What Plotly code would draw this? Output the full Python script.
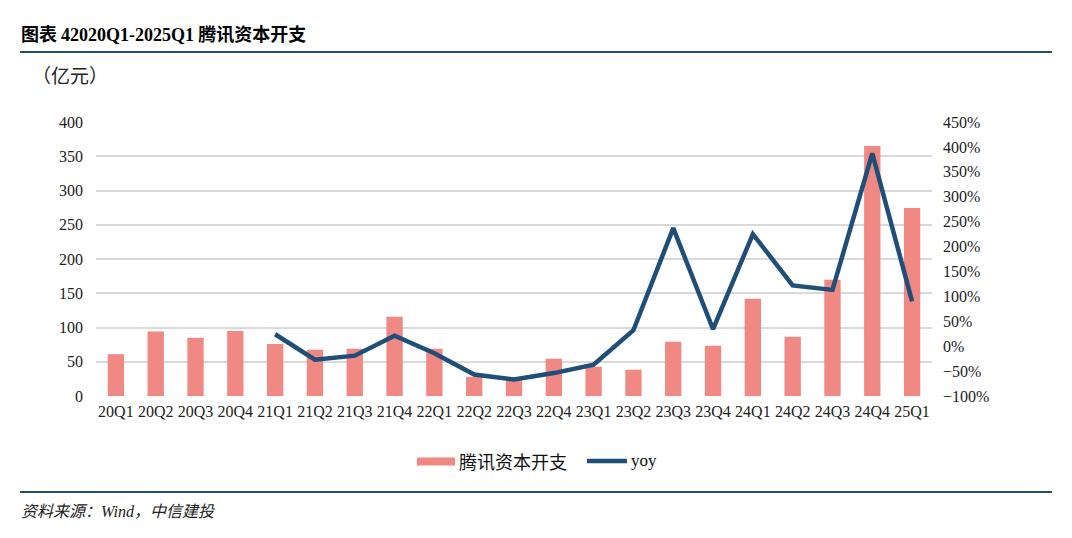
import plotly.graph_objects as go

quarters = ["20Q1", "20Q2", "20Q3", "20Q4", "21Q1", "21Q2", "21Q3", "21Q4",
            "22Q1", "22Q2", "22Q3", "22Q4", "23Q1", "23Q2", "23Q3", "23Q4",
            "24Q1", "24Q2", "24Q3", "24Q4", "25Q1"]
capex = [61, 94, 85, 95, 76, 67.5, 69, 115.6,
         69, 28, 24, 54.4, 42.7, 38.4, 79.2, 73.4,
         141.9, 86.5, 169.6, 365, 274.6]
yoy_q = quarters[4:]
yoy = [24, -27, -19, 21, -14, -57, -67, -54, -37, 32, 237, 34,
       225, 122, 113, 387, 90]

BAR = "#F08884"
LINE = "#1F4E79"
SERIF = "Liberation Serif, Times New Roman, serif"
CJK = "Noto Sans CJK SC"

# page offset from body margin (8px); plot area in page px: x 96..932, y 122..396
OX, OY = 8, 8
PX0, PX1, PY0, PY1 = 96, 932, 122, 396
PW, PH = PX1 - PX0, PY1 - PY0


def px(x):
    return (x - PX0) / PW


def py(y):
    return (PY1 - y) / PH


fig = go.Figure()
fig.add_trace(go.Bar(x=quarters, y=capex, name="腾讯资本开支",
                     marker=dict(color=BAR, line=dict(width=0)), yaxis="y"))
fig.add_trace(go.Scatter(x=yoy_q, y=yoy, name="yoy", mode="lines",
                         line=dict(color=LINE, width=4.5), yaxis="y2"))

fig.update_layout(
    width=1072 - OX, height=538 - OY,
    margin=dict(l=PX0 - OX, r=1072 - PX1, t=PY0 - OY, b=538 - PY1),
    paper_bgcolor="white", plot_bgcolor="white",
    bargap=0.59,
    showlegend=False,
    xaxis=dict(type="category", categoryorder="array", categoryarray=quarters,
               showgrid=False, showline=False, ticks="", ticklabelstandoff=4,
               tickfont=dict(family=SERIF, size=16, color="#222")),
    yaxis=dict(range=[0, 400], dtick=50, showgrid=True, gridcolor="#D9D9D9", gridwidth=1.5,
               zeroline=False, showline=False, ticks="", ticklabelstandoff=12,
               tickfont=dict(family=SERIF, size=16, color="#222")),
    yaxis2=dict(overlaying="y", side="right", range=[-100, 450], dtick=50,
                ticksuffix="%", showgrid=False, zeroline=False, showline=False,
                ticks="", ticklabelstandoff=10,
                tickfont=dict(family=SERIF, size=16, color="#222")),
    shapes=[
        dict(type="line", xref="paper", yref="paper", x0=px(20), x1=px(1052),
             y0=py(52), y1=py(52), line=dict(color=LINE, width=2)),
        dict(type="line", xref="paper", yref="paper", x0=px(20), x1=px(1052),
             y0=py(492), y1=py(492), line=dict(color=LINE, width=2)),
        # legend swatches
        dict(type="rect", xref="paper", yref="paper", x0=px(417), x1=px(455),
             y0=py(465.5), y1=py(457.5), fillcolor=BAR, line=dict(width=0)),
        dict(type="line", xref="paper", yref="paper", x0=px(587), x1=px(627),
             y0=py(461), y1=py(461), line=dict(color=LINE, width=4.5)),
    ],
    annotations=[
        dict(xref="paper", yref="paper", x=px(19), y=py(33), xanchor="left", yanchor="middle",
             showarrow=False,
             text="<b>图表 <span style='font-family:Liberation Serif'>42020Q1-2025Q1</span> 腾讯资本开支</b>",
             font=dict(family=CJK, size=18, color="#000")),
        dict(xref="paper", yref="paper", x=px(30), y=py(74), xanchor="left", yanchor="middle",
             showarrow=False, text="（亿元）",
             font=dict(family=CJK, size=19, color="#222")),
        dict(xref="paper", yref="paper", x=px(19), y=py(510), xanchor="left", yanchor="middle",
             showarrow=False,
             text="<i>资料来源：<span style='font-family:Liberation Serif'>Wind</span>，中信建投</i>",
             font=dict(family=CJK, size=16, color="#222")),
        dict(xref="paper", yref="paper", x=px(457), y=py(461), xanchor="left", yanchor="middle",
             showarrow=False, text="腾讯资本开支",
             font=dict(family=CJK, size=18, color="#111")),
        dict(xref="paper", yref="paper", x=px(629), y=py(461), xanchor="left", yanchor="middle",
             showarrow=False, text="yoy",
             font=dict(family=SERIF, size=17, color="#111")),
    ],
)

fig.write_html("out.html")
